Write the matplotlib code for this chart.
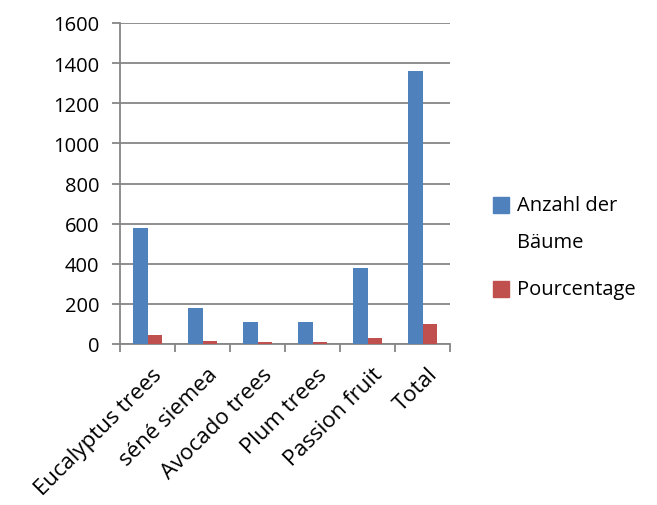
import numpy as np
import matplotlib.pyplot as plt
from matplotlib.patches import Rectangle

categories = ["Eucalyptus trees", "séné siemea", "Avocado trees", "Plum trees",
              "Passion fruit", "Total"]
anzahl = [580, 180, 110, 110, 380, 1360]
pourcentage = [42.6, 13.2, 8.1, 8.1, 27.9, 100]

series_names = ["Anzahl der", "Bäume", "Pourcentage"]
blue = '#4F81BD'
red = '#C0504D'
grid_col = '#868686'

plt.rcParams['font.family'] = ['Open Sans', 'DejaVu Sans']

W, H = 657, 506
fig = plt.figure(figsize=(W / 100, H / 100), dpi=100)
ax = fig.add_axes([120 / W, 1 - 345 / H, 330 / W, 321 / H])

x = np.arange(len(categories))
w = 0.27
ax.bar(x - w / 2, anzahl, w, color=blue, zorder=3)
ax.bar(x + w / 2, pourcentage, w, color=red, zorder=3)

ax.set_ylim(0, 1600)
ax.set_yticks(range(0, 1601, 200))
ax.yaxis.grid(True, color=grid_col, linewidth=1.3, zorder=0)
ax.set_xlim(-0.5, len(categories) - 0.5)

for side in ['top', 'right']:
    ax.spines[side].set_visible(False)
for side in ['left', 'bottom']:
    ax.spines[side].set_color(grid_col)
    ax.spines[side].set_linewidth(1.3)

ax.tick_params(axis='y', length=6, color=grid_col, width=1.3, labelsize=14.5, pad=9)
# ticks sit on category boundaries, labels at category centres
ax.set_xticks(np.arange(-0.5, len(categories)))
ax.set_xticklabels([])
ax.tick_params(axis='x', length=6, color=grid_col, width=1.3)
for i, name in enumerate(categories):
    ax.annotate(name, xy=(i, 0), xycoords=('data', 'axes fraction'),
                xytext=(3, -14), textcoords='offset points',
                rotation=45, rotation_mode='anchor', ha='right', va='top',
                fontsize=16)

# legend drawn by hand: swatch lines up with the first text line
def fx(px):
    return px / W

def fy(px):
    return 1 - px / H

fig.patches.append(Rectangle((fx(493), fy(214)), 16 / W, 16 / H,
                             transform=fig.transFigure, color=blue))
fig.text(fx(517), fy(206), series_names[0], fontsize=14.5, va='center')
fig.text(fx(517), fy(243), series_names[1], fontsize=14.5, va='center')
fig.patches.append(Rectangle((fx(493), fy(298)), 16 / W, 16 / H,
                             transform=fig.transFigure, color=red))
fig.text(fx(517), fy(290), series_names[2], fontsize=14.5, va='center')

fig.savefig('out.png', dpi=100)
